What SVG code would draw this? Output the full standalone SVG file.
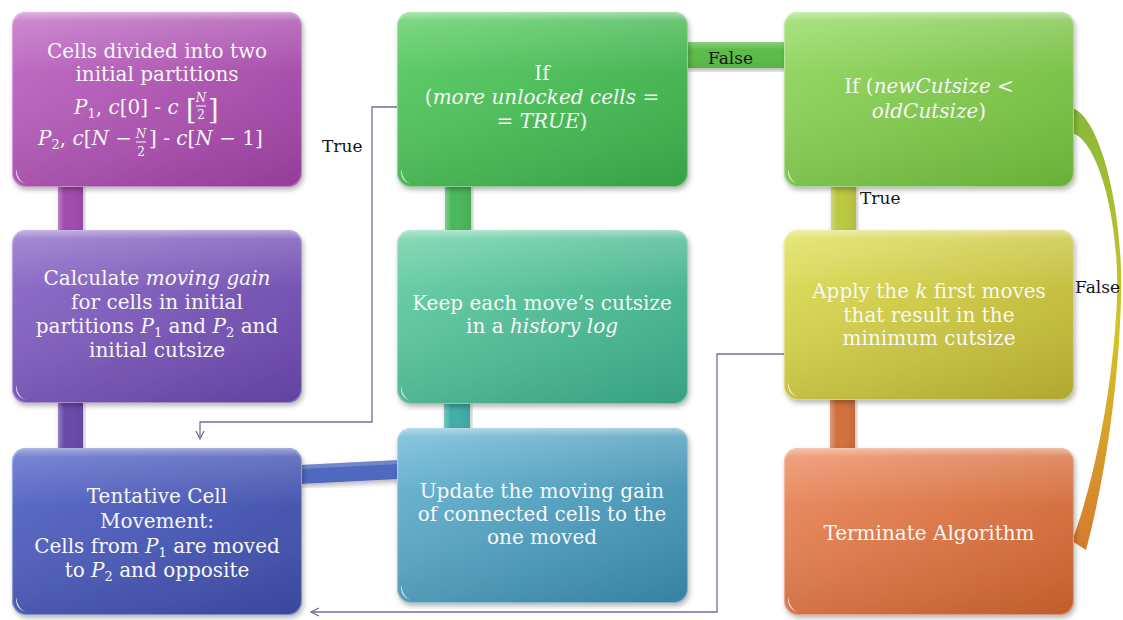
<svg xmlns="http://www.w3.org/2000/svg" xmlns:xlink="http://www.w3.org/1999/xlink" width="1123" height="620" viewBox="0 0 1123 620">
  <style>
    .t { font-family: "DejaVu Serif", "Liberation Serif", serif; font-size: 20px; fill: #f7f7f7; text-anchor: middle; }
    .tl { font-family: "DejaVu Serif", "Liberation Serif", serif; font-size: 20px; fill: #f7f7f7; }
    .sm { font-size: 12px; }
    .br { font-size: 27px; }
    .m { font-style: italic; }
    .lbl { font-family: "DejaVu Serif", "Liberation Serif", serif; font-size: 17px; fill: #141414; }
    .box { filter: url(#shadow); }
    .gloss { fill: url(#gloss); stroke: #ffffff; stroke-opacity: 0.35; stroke-width: 1.2; }
    .bar { filter: url(#shadow); }
    .wire { fill: none; stroke: #6f6f9e; stroke-width: 1.3; }
  </style>
  <defs>
    <filter id="shadow" x="-10%" y="-10%" width="120%" height="125%">
      <feDropShadow dx="1.5" dy="3" stdDeviation="2.5" flood-color="#000" flood-opacity="0.28"/>
    </filter>
    <linearGradient id="gloss" x1="0" y1="0" x2="0" y2="1">
      <stop offset="0" stop-color="#fff" stop-opacity="0.45"/>
      <stop offset="0.05" stop-color="#fff" stop-opacity="0.15"/>
      <stop offset="0.35" stop-color="#fff" stop-opacity="0"/>
      <stop offset="1" stop-color="#000" stop-opacity="0.04"/>
    </linearGradient>
    <linearGradient id="g-magenta" x1="0" y1="0" x2="1" y2="1">
      <stop offset="0" stop-color="#c474c8"/><stop offset="1" stop-color="#9a3e9e"/>
    </linearGradient>
    <linearGradient id="g-purple" x1="0" y1="0" x2="1" y2="1">
      <stop offset="0" stop-color="#9474cc"/><stop offset="1" stop-color="#6644a6"/>
    </linearGradient>
    <linearGradient id="g-blue" x1="0" y1="0" x2="1" y2="1">
      <stop offset="0" stop-color="#6070cc"/><stop offset="1" stop-color="#3c4aa2"/>
    </linearGradient>
    <linearGradient id="g-green" x1="0" y1="0" x2="1" y2="1">
      <stop offset="0" stop-color="#66d06e"/><stop offset="1" stop-color="#38a848"/>
    </linearGradient>
    <linearGradient id="g-teal" x1="0" y1="0" x2="1" y2="1">
      <stop offset="0" stop-color="#72d4aa"/><stop offset="1" stop-color="#38a686"/>
    </linearGradient>
    <linearGradient id="g-steel" x1="0" y1="0" x2="1" y2="1">
      <stop offset="0" stop-color="#74bcd8"/><stop offset="1" stop-color="#3886a6"/>
    </linearGradient>
    <linearGradient id="g-lime" x1="0" y1="0" x2="1" y2="1">
      <stop offset="0" stop-color="#9cdc6c"/><stop offset="1" stop-color="#6cb63a"/>
    </linearGradient>
    <linearGradient id="g-yellow" x1="0" y1="0" x2="1" y2="1">
      <stop offset="0" stop-color="#e2e264"/><stop offset="1" stop-color="#b6ae30"/>
    </linearGradient>
    <linearGradient id="g-orange" x1="0" y1="0" x2="1" y2="1">
      <stop offset="0" stop-color="#ee926a"/><stop offset="1" stop-color="#c8602c"/>
    </linearGradient>
    <linearGradient id="g-ribbon" x1="0" y1="0" x2="0" y2="1">
      <stop offset="0" stop-color="#86b83a"/>
      <stop offset="0.5" stop-color="#d6c424"/>
      <stop offset="1" stop-color="#d67a30"/>
    </linearGradient>
    <linearGradient id="barshine" x1="0" y1="0" x2="1" y2="0">
      <stop offset="0" stop-color="#fff" stop-opacity="0.3"/>
      <stop offset="0.25" stop-color="#fff" stop-opacity="0"/>
      <stop offset="1" stop-color="#000" stop-opacity="0.06"/>
    </linearGradient>
    <linearGradient id="barshine-h" x1="0" y1="0" x2="0" y2="1">
      <stop offset="0" stop-color="#fff" stop-opacity="0.3"/>
      <stop offset="0.3" stop-color="#fff" stop-opacity="0"/>
      <stop offset="1" stop-color="#000" stop-opacity="0.06"/>
    </linearGradient>
    <!-- small specular glint in the lower-left corner of each box -->
    <path id="glint" d="M2,-16 Q1,-4 12,-1 Q4,-3 2,-16 Z" fill="#ffffff" fill-opacity="0.8"/>
    <marker id="chev" viewBox="0 0 10 10" refX="9" refY="5" markerWidth="10" markerHeight="10" markerUnits="userSpaceOnUse" orient="auto">
      <path d="M1,1 L9,5 L1,9" fill="none" stroke="#6f6f9e" stroke-width="1.3"/>
    </marker>
  </defs>

  <rect width="1123" height="620" fill="#ffffff"/>

  <!-- connectors -->
  <g id="connectors">
    <!-- thick joining bars -->
    <rect class="bar" x="58" y="185" width="25" height="47" fill="#a04cac"/>
    <rect x="58" y="185" width="25" height="47" fill="url(#barshine)"/>
    <rect class="bar" x="58" y="401" width="25" height="49" fill="#6a4aa8"/>
    <rect x="58" y="401" width="25" height="49" fill="url(#barshine)"/>
    <rect class="bar" x="445" y="185" width="26" height="47" fill="#4cb85c"/>
    <rect x="445" y="185" width="26" height="47" fill="url(#barshine)"/>
    <rect class="bar" x="444" y="402" width="26" height="28" fill="#42aea6"/>
    <rect x="444" y="402" width="26" height="28" fill="url(#barshine)"/>
    <rect class="bar" x="686" y="42" width="100" height="26" fill="#5cbc48"/>
    <rect x="686" y="42" width="100" height="26" fill="url(#barshine-h)"/>
    <rect class="bar" x="831" y="185" width="25" height="47" fill="#bcc840"/>
    <rect x="831" y="185" width="25" height="47" fill="url(#barshine)"/>
    <rect class="bar" x="830" y="398" width="25" height="52" fill="#d2703c"/>
    <rect x="830" y="398" width="25" height="52" fill="url(#barshine)"/>
    <polygon class="bar" points="300,465 399,460 399,479 300,484" fill="#5068c0"/>
    <polygon points="300,465 399,460 399,464 300,469" fill="#ffffff" fill-opacity="0.2"/>

    <!-- curved "False" return from the cutsize test -->
    <path d="M1072,108 C1100,116 1124,210 1121,300 C1118,400 1102,490 1086,550 L1072,541 C1092,488 1112,400 1117,300 C1120,220 1098,140 1072,133 Z" fill="url(#g-ribbon)"/>

    <!-- thin routed arrows -->
    <path class="wire" d="M398,107 H372 V422 H200 V439" marker-end="url(#chev)"/>
    <path class="wire" d="M786,354 H717 V612 H311" marker-end="url(#chev)"/>

    <!-- branch labels -->
    <text class="lbl" x="322" y="152">True</text>
    <text class="lbl" x="708" y="64">False</text>
    <text class="lbl" x="860" y="204">True</text>
    <text class="lbl" x="1075" y="293">False</text>
  </g>

  <!-- column 1 -->
  <g id="n-partition">
    <rect class="box" x="12" y="12" width="290" height="175" rx="14" fill="url(#g-magenta)"/>
    <rect class="gloss" x="12.5" y="12.5" width="289" height="174" rx="14"/>
    <use xlink:href="#glint" x="14" y="185"/>
    <text class="t" x="157" y="58">Cells divided into two</text>
    <text class="t" x="157" y="81">initial partitions</text>
    <text class="tl" x="74" y="114"><tspan class="m">P</tspan><tspan font-size="13" dy="4">1</tspan><tspan dy="-4">, </tspan><tspan class="m">c</tspan>[0] - <tspan class="m">c</tspan></text>
    <text class="tl br" x="186" y="119">[</text>
    <text class="t sm m" x="201" y="102">N</text>
    <line x1="196" y1="106" x2="206" y2="106" stroke="#f7f7f7" stroke-width="1"/>
    <text class="t sm" x="201" y="119">2</text>
    <text class="tl br" x="208" y="119">]</text>
    <text class="tl" x="38" y="145"><tspan class="m">P</tspan><tspan font-size="13" dy="4">2</tspan><tspan dy="-4">, </tspan><tspan class="m">c</tspan>[<tspan class="m">N</tspan> −</text>
    <text class="t sm m" x="141" y="138">N</text>
    <line x1="136" y1="142" x2="146" y2="142" stroke="#f7f7f7" stroke-width="1"/>
    <text class="t sm" x="141" y="156">2</text>
    <text class="tl" x="149" y="145">] - <tspan class="m">c</tspan>[<tspan class="m">N</tspan> − 1]</text>
  </g>

  <g id="n-gain">
    <rect class="box" x="12" y="230" width="290" height="173" rx="14" fill="url(#g-purple)"/>
    <rect class="gloss" x="12.5" y="230.5" width="289" height="172" rx="14"/>
    <use xlink:href="#glint" x="14" y="401"/>
    <text class="t" x="157" y="285">Calculate <tspan class="m">moving gain</tspan></text>
    <text class="t" x="157" y="309">for cells in initial</text>
    <text class="t" x="157" y="333">partitions <tspan class="m">P</tspan><tspan font-size="13" dy="4">1</tspan><tspan dy="-4"> and </tspan><tspan class="m">P</tspan><tspan font-size="13" dy="4">2</tspan><tspan dy="-4"> and</tspan></text>
    <text class="t" x="157" y="357">initial cutsize</text>
  </g>

  <g id="n-move">
    <rect class="box" x="12" y="448" width="290" height="167" rx="14" fill="url(#g-blue)"/>
    <rect class="gloss" x="12.5" y="448.5" width="289" height="166" rx="14"/>
    <use xlink:href="#glint" x="14" y="613"/>
    <text class="t" x="157" y="503">Tentative Cell</text>
    <text class="t" x="157" y="528">Movement:</text>
    <text class="t" x="157" y="553">Cells from <tspan class="m">P</tspan><tspan font-size="13" dy="4">1</tspan><tspan dy="-4"> are moved</tspan></text>
    <text class="t" x="157" y="577">to <tspan class="m">P</tspan><tspan font-size="13" dy="4">2</tspan><tspan dy="-4"> and opposite</tspan></text>
  </g>

  <!-- column 2 -->
  <g id="n-unlocked">
    <rect class="box" x="397" y="12" width="291" height="175" rx="14" fill="url(#g-green)"/>
    <rect class="gloss" x="397.5" y="12.5" width="290" height="174" rx="14"/>
    <use xlink:href="#glint" x="399" y="185"/>
    <text class="t" x="542" y="80">If</text>
    <text class="t" x="542" y="104">(<tspan class="m">more unlocked cells</tspan>  =</text>
    <text class="t" x="542" y="128">= <tspan class="m">TRUE</tspan>)</text>
  </g>

  <g id="n-history">
    <rect class="box" x="397" y="230" width="291" height="174" rx="14" fill="url(#g-teal)"/>
    <rect class="gloss" x="397.5" y="230.5" width="290" height="173" rx="14"/>
    <use xlink:href="#glint" x="399" y="402"/>
    <text class="t" x="542" y="310">Keep each move’s cutsize</text>
    <text class="t" x="542" y="333">in a <tspan class="m">history log</tspan></text>
  </g>

  <g id="n-update">
    <rect class="box" x="397" y="428" width="291" height="175" rx="14" fill="url(#g-steel)"/>
    <rect class="gloss" x="397.5" y="428.5" width="290" height="174" rx="14"/>
    <use xlink:href="#glint" x="399" y="601"/>
    <text class="t" x="542" y="498">Update the moving gain</text>
    <text class="t" x="542" y="521">of connected cells to the</text>
    <text class="t" x="542" y="544">one moved</text>
  </g>

  <!-- column 3 -->
  <g id="n-cutsize">
    <rect class="box" x="784" y="12" width="290" height="175" rx="14" fill="url(#g-lime)"/>
    <rect class="gloss" x="784.5" y="12.5" width="289" height="174" rx="14"/>
    <use xlink:href="#glint" x="786" y="185"/>
    <text class="t" x="929" y="93">If (<tspan class="m">newCutsize</tspan> &lt;</text>
    <text class="t" x="929" y="118"><tspan class="m">oldCutsize</tspan>)</text>
  </g>

  <g id="n-apply">
    <rect class="box" x="784" y="230" width="290" height="170" rx="14" fill="url(#g-yellow)"/>
    <rect class="gloss" x="784.5" y="230.5" width="289" height="169" rx="14"/>
    <use xlink:href="#glint" x="786" y="398"/>
    <text class="t" x="929" y="298">Apply the <tspan class="m">k</tspan> first moves</text>
    <text class="t" x="929" y="322">that result in the</text>
    <text class="t" x="929" y="345">minimum cutsize</text>
  </g>

  <g id="n-terminate">
    <rect class="box" x="784" y="448" width="290" height="167" rx="14" fill="url(#g-orange)"/>
    <rect class="gloss" x="784.5" y="448.5" width="289" height="166" rx="14"/>
    <use xlink:href="#glint" x="786" y="613"/>
    <text class="t" x="929" y="540">Terminate Algorithm</text>
  </g>
</svg>
